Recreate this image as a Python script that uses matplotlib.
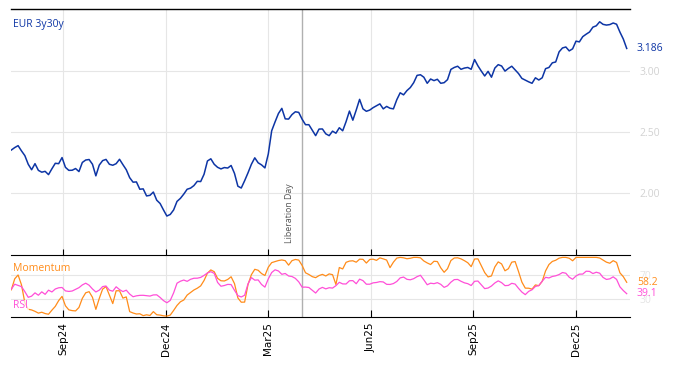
import numpy as np
import pandas as pd
import matplotlib
matplotlib.use('Agg')
import matplotlib.pyplot as plt
import matplotlib.dates as mdates
from matplotlib.ticker import FormatStrFormatter

# values, one every 3 calendar days from 18 Jul 2024
start = '2024-07-18'

eur3y30y = [
    2.352, 2.372, 2.388, 2.345, 2.306, 2.235, 2.19, 2.24, 2.185, 2.17,
    2.177, 2.15, 2.198, 2.243, 2.24, 2.29, 2.21, 2.185, 2.186, 2.2,
    2.175, 2.25, 2.27, 2.274, 2.235, 2.14, 2.228, 2.265, 2.275, 2.235,
    2.227, 2.24, 2.276, 2.232, 2.19, 2.125, 2.088, 2.09, 2.03, 2.033,
    1.975, 1.98, 2.007, 1.94, 1.913, 1.86, 1.81, 1.823, 1.86, 1.93,
    1.955, 1.99, 2.03, 2.039, 2.06, 2.095, 2.093, 2.153, 2.262, 2.28,
    2.235, 2.21, 2.197, 2.208, 2.204, 2.225, 2.16, 2.055, 2.04, 2.1,
    2.165, 2.235, 2.288, 2.247, 2.23, 2.205, 2.32, 2.51, 2.583, 2.652,
    2.694, 2.608, 2.606, 2.643, 2.666, 2.661, 2.605, 2.56, 2.56, 2.515,
    2.47, 2.524, 2.525, 2.485, 2.47, 2.507, 2.49, 2.535, 2.51, 2.585,
    2.672, 2.597, 2.68, 2.768, 2.69, 2.67, 2.68, 2.7, 2.715, 2.731,
    2.69, 2.71, 2.695, 2.69, 2.765, 2.822, 2.805, 2.84, 2.865, 2.905,
    2.965, 2.97, 2.95, 2.9, 2.935, 2.922, 2.933, 2.9, 2.905, 2.93,
    3.014, 3.03, 3.04, 3.015, 3.025, 3.03, 3.015, 3.095, 3.043, 3.0,
    2.96, 2.998, 2.95, 3.025, 3.053, 3.042, 3.0, 3.022, 3.04, 3.01,
    2.98, 2.94, 2.926, 2.912, 2.9, 2.945, 2.927, 2.945, 3.02, 3.03,
    3.068, 3.075, 3.158, 3.19, 3.198, 3.166, 3.183, 3.246, 3.24, 3.283,
    3.303, 3.321, 3.361, 3.372, 3.405, 3.384, 3.378, 3.382, 3.395, 3.385,
    3.32, 3.263, 3.186]

momentum = [
    45.6, 64, 70.5, 54, 24, 13, 11.8, 9.5, 6.5, 8,
    5.8, 4.6, 11.5, 17.8, 27.5, 34.6, 18.8, 12, 10.7, 10.2,
    16, 31.3, 40.6, 42.5, 33, 12.8, 31, 46.8, 51, 36.5,
    22.5, 44, 44, 31.7, 33.7, 9, 6.7, 5, 5.4, 2.3,
    3.7, 2.6, 9, 3.8, 3.2, 2, 1.5, 3.2, 11, 19.4,
    25.5, 28.5, 36.8, 41, 45.3, 48.3, 52.2, 61.3, 73.6, 79,
    76, 64.8, 60.8, 60.4, 63, 67.5, 56, 32, 24.8, 25,
    54.5, 71, 80, 78.4, 72.9, 69.6, 83.5, 91.2, 93, 94.7,
    95.7, 94.5, 87, 94.5, 96.5, 95.5, 86.5, 74.2, 71.3, 67.7,
    66, 69.5, 71.5, 68.8, 72.3, 71, 54.5, 83, 80.6, 91.7,
    93.8, 94.3, 91.9, 97, 96.7, 90.5, 96.5, 97, 95, 99.2,
    97.5, 95.5, 82.8, 92, 98.8, 100, 99.3, 97.7, 98.5, 100,
    100, 99.3, 94, 90.7, 88, 93.5, 93, 82.5, 75, 81,
    94.7, 99, 99.3, 97.5, 94.5, 91, 84.5, 97.3, 97.5, 86,
    74.5, 67.2, 68.9, 84, 92.5, 89, 77.5, 81, 92, 93,
    76.3, 58.5, 48.4, 48.3, 46.7, 53.8, 52.5, 59.8, 77.3, 88,
    93.2, 95.2, 98.7, 100, 100, 98.6, 94.3, 100, 100, 100,
    100, 100, 100, 100, 99, 95.6, 92, 90.2, 94.5, 91.5,
    74, 67.6, 58.2]

rsi = [
    46.7, 55, 53, 51, 42.5, 33, 35, 40.5, 36.5, 42.2,
    38, 45, 42, 47, 49, 49.5, 43.8, 42.9, 43.6, 46.3,
    49.2, 53.8, 56.7, 53.3, 47, 42, 45, 51, 52, 45,
    43.3, 50.7, 46, 42.6, 45, 38.5, 34, 35.5, 36.3, 36.4,
    35.8, 35.1, 37, 37.2, 32.8, 27.5, 23.9, 27.8, 40.5, 56.7,
    60, 62, 59.8, 63.2, 65, 65.1, 66.4, 69.8, 73.9, 76,
    73.2, 58, 51.6, 52.8, 54.7, 54.4, 44.8, 35.8, 33.6, 36.5,
    55.6, 66.1, 61.8, 62.2, 54.6, 50.1, 64, 74.6, 79.2, 77.2,
    71.6, 73, 68.8, 67.9, 64.8, 59, 50, 50.2, 49.5, 44.9,
    40.2, 46.9, 49.7, 47.2, 49.1, 48.5, 52.6, 58.2, 55.5, 55.4,
    60.8, 61, 55.8, 63.5, 61, 55, 55, 57.3, 57.9, 59.3,
    58.8, 54.8, 54.6, 56.1, 59.6, 65.6, 67, 63.2, 62.4, 64.3,
    67.7, 70, 62.3, 54.1, 56.7, 55.9, 57.6, 54.8, 49.7, 52.3,
    58.4, 62.7, 63, 59.9, 57.3, 55.9, 52.8, 59.9, 60.3, 54,
    47.6, 48.6, 52, 57.1, 60.6, 57.6, 52.6, 53, 56.5, 55.2,
    48.1, 41.8, 37.5, 43, 45.7, 51.3, 52.7, 60, 66.6, 65.5,
    68, 69.1, 71.2, 74.6, 73.4, 66.7, 63.3, 68.8, 71.9, 72,
    76.8, 76.5, 72.9, 75.1, 73.5, 66.4, 63, 64, 67.4, 63.1,
    50.5, 44.3, 39.1]

tick_dates = ['2024-09-02', '2024-12-02', '2025-03-03',
              '2025-06-02', '2025-09-01', '2025-12-01']
lib_day = '2025-04-02'

blue = '#0d35a5'
orange = '#ff8c1a'
pink = '#ff4fd8'
lightgrey = '#d2d2d2'
gridc = '#e6e6e6'
sans = ['Open Sans', 'DejaVu Sans']

d_eur = pd.date_range(start, periods=len(eur3y30y), freq='3D')
d_mom = pd.date_range(start, periods=len(momentum), freq='3D')
d_rsi = pd.date_range(start, periods=len(rsi), freq='3D')
ticks = pd.to_datetime(tick_dates)
lib = pd.Timestamp(lib_day)

fig = plt.figure(figsize=(6.74, 3.66), dpi=100)
ax1 = fig.add_axes([11/674, 1-255/366, 619/674, 246/366])
ax2 = fig.add_axes([11/674, 1-317/366, 619/674, 62/366], sharex=ax1)

# main panel
ax1.plot(d_eur, eur3y30y, color=blue, lw=1.1, zorder=3)
ax1.set_ylim(1.49, 3.51)
ax1.set_yticks([2.0, 2.5, 3.0])
ax1.yaxis.set_major_formatter(FormatStrFormatter('%.2f'))
ax1.yaxis.tick_right()
ax1.tick_params(axis='y', length=0, pad=7, labelcolor=lightgrey, labelsize=7.5)
for lab in ax1.get_yticklabels():
    lab.set_family(sans)
ax1.tick_params(axis='x', direction='in', length=4, labelbottom=False, color='black')
ax1.grid(True, color=gridc, lw=0.8)
for s in ['left', 'right', 'bottom']:
    ax1.spines[s].set_visible(False)
ax1.spines['top'].set_linewidth(1)
ax1.axvline(lib, color='#b0b0b0', lw=1, zorder=2)
ax1.annotate('Liberation Day', xy=(lib, 0), xycoords=('data', 'axes fraction'),
             xytext=(-9, 8.5), textcoords='offset points', rotation=90,
             ha='center', va='bottom', fontsize=6.3, color='#555555', family=sans)
ax1.text(0.003, 0.935, 'EUR 3y30y', transform=ax1.transAxes, color=blue,
         fontsize=7.5, va='center', ha='left', family=sans)
ax1.annotate(f'{eur3y30y[-1]:.3f}', xy=(1, eur3y30y[-1]), xycoords=('axes fraction', 'data'),
             xytext=(5, 0), textcoords='offset points', va='center', ha='left',
             color=blue, fontsize=7.5, family=sans)

# indicator panel
ax2.plot(d_mom, momentum, color=orange, lw=0.9, zorder=3)
ax2.plot(d_rsi, rsi, color=pink, lw=0.9, zorder=3)
ax2.set_ylim(0, 104)
ax2.set_yticks([30, 70])
ax2.yaxis.tick_right()
ax2.tick_params(axis='y', length=0, pad=7, labelcolor='#e4e4e4', labelsize=7.5)
for lab in ax2.get_yticklabels():
    lab.set_family(sans)
ax2.grid(True, color=gridc, lw=0.8)
ax2.spines['left'].set_visible(False)
ax2.spines['right'].set_visible(False)
ax2.axvline(lib, color='#b0b0b0', lw=1, zorder=2)
ax2.set_xticks(ticks)
ax2.xaxis.set_major_formatter(mdates.DateFormatter('%b%y'))
ax2.tick_params(axis='x', direction='in', length=5, labelsize=7.5, pad=4, color='black')
plt.setp(ax2.get_xticklabels(), rotation=90)
ax2.set_xlim(pd.Timestamp('2024-07-17 17:00'), pd.Timestamp('2026-01-17 22:00'))

box = dict(facecolor='white', alpha=0.7, edgecolor='none', pad=0.5)
ax2.text(0.003, 0.79, 'Momentum', transform=ax2.transAxes, color=orange,
         fontsize=7.5, va='center', ha='left', family=sans, bbox=box, zorder=4)
ax2.text(0.003, 0.18, 'RSI', transform=ax2.transAxes, color=pink,
         fontsize=7.5, va='center', ha='left', family=sans, bbox=box, zorder=4)
ax2.annotate(f'{momentum[-1]:.1f}', xy=(1, momentum[-1]), xycoords=('axes fraction', 'data'),
             xytext=(5, 0), textcoords='offset points', va='center', ha='left',
             color=orange, fontsize=7.5, family=sans)
ax2.annotate(f'{rsi[-1]:.1f}', xy=(1, rsi[-1]), xycoords=('axes fraction', 'data'),
             xytext=(5, 0), textcoords='offset points', va='center', ha='left',
             color=pink, fontsize=7.5, family=sans)

fig.savefig('out.png', dpi=100)
